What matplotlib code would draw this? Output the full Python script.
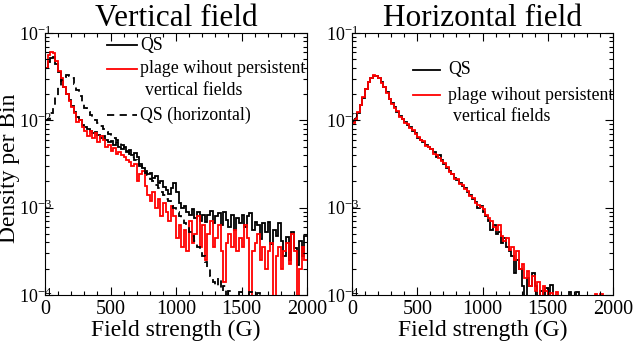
import numpy as np
import matplotlib
matplotlib.use('Agg')
import matplotlib.pyplot as plt
from matplotlib.ticker import MultipleLocator, LogLocator, NullFormatter

plt.rcParams['font.family'] = ['Liberation Serif', 'DejaVu Serif']
plt.rcParams['mathtext.fontset'] = 'custom'
plt.rcParams['mathtext.rm'] = 'Liberation Serif'
plt.rcParams['mathtext.it'] = 'Liberation Serif:italic'
plt.rcParams['mathtext.bf'] = 'Liberation Serif:bold'

# histogram bin edges (G), 20 G bins
edges = np.arange(0, 2001, 20)

# values, as log10(density per bin); -5 = empty bin
vert_qs_log = [
    -1.40, -1.33, -1.29, -1.28, -1.35, -1.45, -1.55, -1.62, -1.70, -1.77,
    -1.84, -1.90, -1.96, -2.00, -2.05, -2.08, -2.10, -2.12, -2.15, -2.13,
    -2.17, -2.20, -2.18, -2.22, -2.25, -2.24, -2.28, -2.25, -2.30, -2.33,
    -2.31, -2.36, -2.34, -2.40, -2.37, -2.42, -2.50, -2.55, -2.58, -2.62,
    -2.60, -2.66, -2.64, -2.72, -2.70, -2.76, -2.80, -2.84, -2.78, -2.72,
    -2.82, -2.95, -3.00, -2.98, -3.05, -3.08, -3.02, -3.12, -3.05, -3.15,
    -3.08, -3.16, -3.08, -3.04, -3.18, -3.10, -3.06, -3.20, -3.05, -3.14,
    -3.22, -3.08, -3.26, -3.12, -3.18, -3.08, -3.22, -3.10, -3.06, -3.26,
    -3.16, -3.20, -3.36, -3.18, -3.28, -3.16, -3.42, -3.26, -3.32, -3.18,
    -3.38, -3.55, -3.34, -3.60, -3.28, -3.46, -3.66, -3.38, -3.55, -3.32]

vert_plage_log = [
    -1.40, -1.25, -1.22, -1.23, -1.32, -1.43, -1.52, -1.62, -1.70, -1.78,
    -1.85, -1.92, -2.02, -2.00, -2.08, -2.12, -2.18, -2.12, -2.20, -2.15,
    -2.25, -2.18, -2.22, -2.30, -2.28, -2.35, -2.32, -2.38, -2.36, -2.40,
    -2.42, -2.45, -2.48, -2.52, -2.50, -2.70, -2.62, -2.58, -2.75, -2.85,
    -2.92, -2.82, -3.00, -2.90, -3.10, -2.95, -3.05, -3.15, -2.98, -3.10,
    -3.35, -3.20, -3.45, -3.25, -3.50, -3.15, -3.40, -3.30, -3.10, -3.45,
    -3.20, -3.60, -3.30, -3.15, -3.45, -3.35, -3.20, -3.50, -3.85, -3.40,
    -3.30, -3.45, -3.25, -3.50, -3.35, -3.45, -3.20, -3.35, -5.00, -3.50,
    -3.40, -3.30, -3.60, -3.45, -3.70, -3.50, -3.40, -5.00, -3.55, -3.45,
    -3.70, -3.50, -3.40, -3.65, -3.30, -3.50, -5.00, -3.70, -3.45, -3.60]

vert_qs_horiz_log = [
    -2.00, -1.98, -1.92, -1.82, -1.72, -1.62, -1.54, -1.50, -1.48, -1.49,
    -1.52, -1.58, -1.65, -1.72, -1.80, -1.86, -1.90, -1.94, -1.97, -2.00,
    -2.03, -2.06, -2.10, -2.13, -2.16, -2.18, -2.20, -2.23, -2.26, -2.28,
    -2.31, -2.35, -2.38, -2.42, -2.45, -2.48, -2.52, -2.56, -2.60, -2.63,
    -2.67, -2.70, -2.74, -2.78, -2.82, -2.85, -2.90, -2.92, -2.98, -3.00,
    -3.05, -3.10, -3.12, -3.18, -3.20, -3.28, -3.32, -3.38, -3.45, -3.50,
    -3.55, -3.62, -3.70, -3.78, -3.85, -3.90, -3.80, -3.95, -3.90, -5.00,
    -3.95, -5.00, -5.00, -5.00, -3.97, -5.00, -5.00, -5.00, -3.97, -5.00,
    -5.00, -3.98, -5.00, -5.00, -5.00, -5.00, -5.00, -5.00, -5.00, -5.00,
    -5.00, -5.00, -5.00, -5.00, -5.00, -5.00, -5.00, -5.00, -5.00, -5.00]

horiz_qs_log = [
    -2.02, -1.98, -1.92, -1.83, -1.74, -1.64, -1.56, -1.51, -1.49, -1.49,
    -1.51, -1.56, -1.62, -1.68, -1.75, -1.80, -1.85, -1.90, -1.95, -1.99,
    -2.02, -2.05, -2.08, -2.12, -2.15, -2.20, -2.22, -2.25, -2.28, -2.30,
    -2.33, -2.36, -2.42, -2.40, -2.45, -2.50, -2.55, -2.58, -2.62, -2.66,
    -2.68, -2.72, -2.75, -2.78, -2.82, -2.86, -2.90, -2.94, -3.00, -2.98,
    -3.05, -3.10, -3.15, -3.25, -3.20, -3.30, -3.28, -3.40, -3.35, -3.45,
    -3.50, -3.55, -3.75, -3.60, -3.70, -3.90, -5.00, -3.80, -3.90, -3.75,
    -3.90, -5.00, -3.95, -5.00, -3.92, -5.00, -3.88, -5.00, -5.00, -5.00,
    -5.00, -5.00, -5.00, -3.97, -5.00, -5.00, -3.97, -5.00, -5.00, -5.00,
    -5.00, -5.00, -5.00, -5.00, -5.00, -5.00, -5.00, -5.00, -5.00, -5.00]

horiz_plage_log = [
    -2.03, -1.99, -1.91, -1.82, -1.73, -1.64, -1.56, -1.51, -1.48, -1.49,
    -1.52, -1.57, -1.62, -1.69, -1.75, -1.81, -1.86, -1.89, -1.96, -1.98,
    -2.03, -2.04, -2.09, -2.11, -2.16, -2.19, -2.23, -2.24, -2.29, -2.31,
    -2.33, -2.38, -2.40, -2.43, -2.46, -2.49, -2.54, -2.59, -2.61, -2.67,
    -2.67, -2.73, -2.74, -2.79, -2.81, -2.87, -2.89, -2.95, -2.97, -2.99,
    -3.02, -3.08, -3.12, -3.15, -3.22, -3.25, -3.20, -3.32, -3.38, -3.35,
    -3.48, -3.45, -3.60, -3.50, -3.70, -3.65, -3.80, -3.72, -3.90, -3.78,
    -3.95, -3.85, -5.00, -3.90, -3.95, -5.00, -3.98, -5.00, -3.96, -5.00,
    -5.00, -5.00, -5.00, -5.00, -5.00, -5.00, -5.00, -5.00, -5.00, -5.00,
    -5.00, -5.00, -5.00, -3.99, -5.00, -3.99, -5.00, -5.00, -5.00, -5.00]

x_ticks = [0, 500, 1000, 1500, 2000]

LW = 1.3
DASH = (0, (4, 3))


def steps(ax, vals_log, **kw):
    v = 10.0 ** np.array(vals_log)
    ax.stairs(v, edges, baseline=None, **kw)


def style(ax):
    ax.set_yscale('log')
    ax.set_xlim(0, 2000)
    ax.set_ylim(1e-4, 1e-1)
    ax.set_xticks(x_ticks)
    ax.xaxis.set_minor_locator(MultipleLocator(100))
    ax.yaxis.set_major_locator(LogLocator(base=10, numticks=10))
    ax.yaxis.set_minor_locator(LogLocator(base=10, subs=np.arange(2, 10), numticks=20))
    ax.yaxis.set_minor_formatter(NullFormatter())
    ax.tick_params(which='both', direction='in', top=True, right=True, labelsize=14.5)
    ax.tick_params(axis='y', pad=-5, labelsize=13)
    ax.tick_params(which='major', length=6, width=0.8)
    ax.tick_params(which='minor', length=3, width=0.8)
    ax.set_xlabel('Field strength (G)', fontsize=17, labelpad=1)


fig = plt.figure(figsize=(6.34, 3.45), dpi=100)
ax1 = fig.add_axes([45 / 634, 1 - 295 / 345, 262 / 634, 262 / 345])
ax2 = fig.add_axes([352 / 634, 1 - 295 / 345, 261 / 634, 262 / 345])

# left: vertical field
steps(ax1, vert_qs_log, color='black', lw=LW)
steps(ax1, vert_plage_log, color='red', lw=LW)
steps(ax1, vert_qs_horiz_log, color='black', lw=LW, linestyle=DASH)
style(ax1)
ax1.set_title('Vertical field', fontsize=22.5, pad=3)
fig.text(10 / 634, 1 - 168 / 345, 'Density per Bin', rotation=90,
         ha='center', va='center', fontsize=17)

fs = 12.8
tr = ax1.transAxes
ax1.plot([0.237, 0.351], [0.954, 0.954], color='black', lw=LW, transform=tr)
ax1.text(0.363, 0.954, 'QS', transform=tr, va='center', fontsize=fs)
ax1.plot([0.237, 0.351], [0.863, 0.863], color='red', lw=LW, transform=tr)
ax1.text(0.363, 0.863, 'plage wihout persistent', transform=tr, va='center', fontsize=fs)
ax1.text(0.383, 0.779, 'vertical fields', transform=tr, va='center', fontsize=fs)
ax1.plot([0.237, 0.351], [0.687, 0.687], color='black', lw=LW,
         linestyle=DASH, transform=tr)
ax1.text(0.363, 0.687, 'QS (horizontal)', transform=tr, va='center', fontsize=fs)

# right: horizontal field
steps(ax2, horiz_qs_log, color='black', lw=LW)
steps(ax2, horiz_plage_log, color='red', lw=LW)
style(ax2)
ax2.set_title('Horizontal field', fontsize=22.5, pad=3)

tr = ax2.transAxes
ax2.plot([0.234, 0.337], [0.859, 0.859], color='black', lw=LW, transform=tr)
ax2.text(0.368, 0.859, 'QS', transform=tr, va='center', fontsize=fs)
ax2.plot([0.234, 0.337], [0.763, 0.763], color='red', lw=LW, transform=tr)
ax2.text(0.368, 0.763, 'plage wihout persistent', transform=tr, va='center', fontsize=fs)
ax2.text(0.388, 0.683, 'vertical fields', transform=tr, va='center', fontsize=fs)

fig.savefig('out.png', dpi=100)
